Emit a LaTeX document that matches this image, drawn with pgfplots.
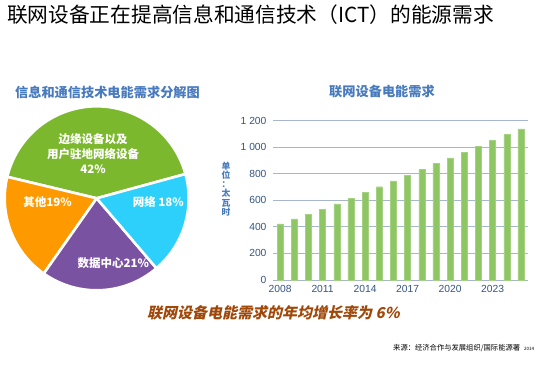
\documentclass[border=0pt]{standalone}
\usepackage{pgfplots}
\usepackage{pgfplotstable}
\pgfplotsset{compat=1.18}
\usepackage{fontspec}
\setmainfont{Liberation Sans}
\newfontfamily\cjk{Noto Sans CJK SC}
\newfontfamily\cjksl{Noto Sans CJK SC}[FakeSlant=0.22]
\definecolor{subblue}{RGB}{72,122,190}
\definecolor{tickblue}{RGB}{52,84,130}
\definecolor{gridc}{RGB}{168,182,204}
\definecolor{barg}{RGB}{141,198,99}
\definecolor{pgreen}{RGB}{124,184,46}
\definecolor{porange}{RGB}{255,153,0}
\definecolor{ppurple}{RGB}{122,82,162}
\definecolor{pcyan}{RGB}{44,208,250}
\definecolor{brownt}{RGB}{160,72,10}

\pgfplotstableread{
year value
2008 422
2009 460
2010 495
2011 530
2012 573
2013 615
2014 658
2015 703
2016 746
2017 789
2018 834
2019 877
2020 920
2021 962
2022 1007
2023 1050
2024 1095
2025 1138
}\bardata

\pgfplotstableread{
slice pct
edge 42
other 19
dc 21
net 18
}\piedata

\begin{document}
\begin{tikzpicture}[x=1pt,y=1pt]
\path[use as bounding box] (0,0) rectangle (550,367);

% pie angles from data
\pgfplotstablegetelem{0}{pct}\of\piedata \pgfmathsetmacro\pA{\pgfplotsretval}
\pgfplotstablegetelem{1}{pct}\of\piedata \pgfmathsetmacro\pB{\pgfplotsretval}
\pgfplotstablegetelem{2}{pct}\of\piedata \pgfmathsetmacro\pC{\pgfplotsretval}
\pgfplotstablegetelem{3}{pct}\of\piedata \pgfmathsetmacro\pD{\pgfplotsretval}
\pgfmathsetmacro\aS{15.3}
\pgfmathsetmacro\aA{\aS+3.6*\pA}
\pgfmathsetmacro\aB{\aA+3.6*\pB}
\pgfmathsetmacro\aC{\aB+3.6*\pC}
\pgfmathsetmacro\aD{\aC+3.6*\pD}

\node[anchor=west,font=\cjk\fontsize{20.7}{22}\selectfont,inner sep=0] at (7,352) {联网设备正在提高信息和通信技术（ICT）的能源需求};

\node[font=\cjk\bfseries\fontsize{13.2}{15}\selectfont,text=subblue,inner sep=0] at (107.5,275) {信息和通信技术电能需求分解图};
\node[font=\cjk\bfseries\fontsize{13.2}{15}\selectfont,text=subblue,inner sep=0] at (382,275) {联网设备电能需求};

\begin{axis}[
  x=92pt, y=92pt,
  xmin=-1, xmax=1, ymin=-1, ymax=1,
  hide axis, anchor=center, at={(96.7pt,168.7pt)},
  clip=false,
]
\fill[pgreen, draw=white, line width=2.6pt, line join=round] (axis cs:0,0) -- ++(\aS:92pt) arc[start angle=\aS, end angle=\aA, radius=92pt] -- cycle;
\fill[porange, draw=white, line width=2.6pt, line join=round] (axis cs:0,0) -- ++(\aA:92pt) arc[start angle=\aA, end angle=\aB, radius=92pt] -- cycle;
\fill[ppurple, draw=white, line width=2.6pt, line join=round] (axis cs:0,0) -- ++(\aB:92pt) arc[start angle=\aB, end angle=\aC, radius=92pt] -- cycle;
\fill[pcyan, draw=white, line width=2.6pt, line join=round] (axis cs:0,0) -- ++(\aC:92pt) arc[start angle=\aC, end angle=\aD, radius=92pt] -- cycle;
\node[text=white,font=\cjk\bfseries\fontsize{11.5}{15}\selectfont,align=center] at (axis cs:-0.04,0.49) {边缘设备以及\\用户驻地网络设备\\42\%};
\node[text=white,font=\cjk\bfseries\fontsize{11.5}{14}\selectfont] at (axis cs:-0.535,-0.04) {其他19\%};
\node[text=white,font=\cjk\bfseries\fontsize{11.5}{14}\selectfont] at (axis cs:0.67,-0.04) {网络 18\%};
\node[text=white,font=\cjk\bfseries\fontsize{11.5}{14}\selectfont] at (axis cs:0.18,-0.71) {数据中心21\%};
\end{axis}

\begin{axis}[
  at={(273pt,87pt)}, anchor=south west,
  scale only axis, width=255pt, height=159.3pt,
  ybar, bar width=6pt,
  xmin=2007.5, xmax=2025.5, ymin=0, ymax=1200,
  xtick={2008,2011,2014,2017,2020,2023},
  ytick={0,200,...,1200},
  axis line style={draw=none},
  major tick length=0pt,
  ymajorgrids, grid style={gridc, line width=0.9pt},
  /pgf/number format/assume math mode=true,
  /pgf/number format/1000 sep={\ },
  xticklabel style={/pgf/number format/1000 sep={}, font=\fontsize{10.3}{12}\selectfont, text=tickblue, yshift=-2pt},
  yticklabel style={font=\fontsize{10.3}{12}\selectfont, text=tickblue, xshift=-3pt},
  clip=false,
]
\addplot[fill=barg, draw=barg!80!white, line width=0.3pt] table[x=year,y=value] {\bardata};
\end{axis}

\node[text=subblue,font=\cjk\bfseries\fontsize{8.8}{9.2}\selectfont,align=center,inner sep=0] at (226,178) {单\\位\\：\\太\\瓦\\时};

\node[anchor=west,text=brownt,font=\cjksl\bfseries\fontsize{15}{17}\selectfont,inner sep=0] at (147,54) {联网设备电能需求的年均增长率为 6\%};

\node[anchor=west,font=\cjk\fontsize{7.3}{8}\selectfont,inner sep=0] at (393,19) {来源：经济合作与发展组织/国际能源署\hspace{4pt}{\fontsize{4.5}{5}\selectfont 2014}};
\end{tikzpicture}
\end{document}
